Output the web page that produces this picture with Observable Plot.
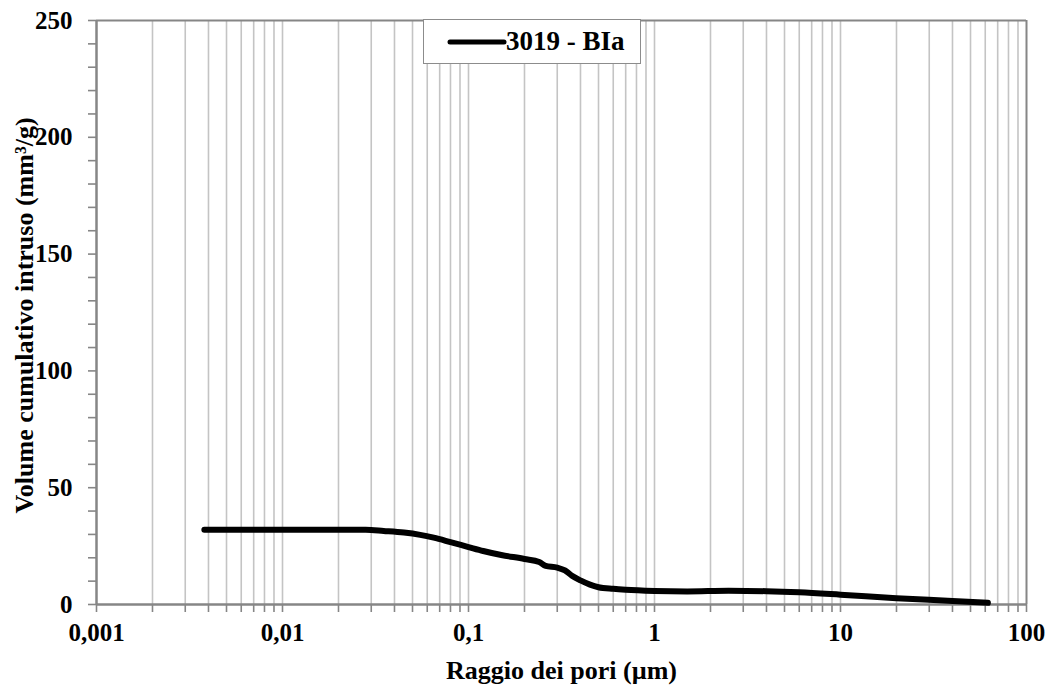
<!DOCTYPE html>
<html>
<head>
<meta charset="utf-8">
<script src="https://cdn.jsdelivr.net/npm/d3@7"></script>
<script src="https://cdn.jsdelivr.net/npm/@observablehq/plot@0.6"></script>
<style>
  html, body { margin: 0; padding: 0; background: #fff; }
  #wrap { position: relative; width: 1051px; height: 691px; }
  #legend {
    position: absolute; left: 423px; top: 19px; width: 216px; height: 43px;
    background: #fff; border: 1.5px solid #8c8c8c;
    font-family: "Liberation Serif", "Times New Roman", serif; font-weight: bold; font-size: 27px;
  }
  #legend svg { position: absolute; left: 0; top: 0; }
  #legend span { position: absolute; left: 82px; top: 5px; line-height: 32px; }
</style>
</head>
<body>
<div id="wrap"></div>
<script>
// Series: pore radius (µm) vs cumulative intruded volume (mm³/g)
const seriesName = "3019 - BIa";
const radius = [0.0038, 0.005, 0.01, 0.02, 0.028, 0.035, 0.045, 0.055, 0.065, 0.08, 0.1, 0.12, 0.15, 0.2, 0.24, 0.26, 0.3, 0.33, 0.36, 0.40, 0.45, 0.5, 0.6, 0.7, 1, 1.5, 2.5, 4, 6, 10, 20, 40, 62];
const volume = [32, 32, 32, 32, 32, 31.5, 30.8, 29.8, 28.6, 26.7, 24.6, 22.9, 21.2, 19.5, 18.2, 16.5, 15.8, 14.6, 12.3, 10.3, 8.5, 7.4, 6.7, 6.3, 5.8, 5.6, 5.9, 5.7, 5.2, 4.2, 2.7, 1.5, 0.7];

// Axis ticks
const xDecades = [0.001, 0.01, 0.1, 1, 10, 100];
const xTickLabels = ["0,001", "0,01", "0,1", "1", "10", "100"];
const xMultipliers = [1, 2, 3, 4, 5, 6, 7, 8, 9];
const yLabelTicks = [0, 50, 100, 150, 200, 250];
const yMinorTicks = [0, 10, 20, 30, 40, 50, 60, 70, 80, 90, 100, 110, 120, 130, 140, 150, 160, 170, 180, 190, 200, 210, 220, 230, 240, 250];

const xTitle = "Raggio dei pori (µm)";
const yTitle = "Volume cumulativo intruso (mm³/g)";

const data = radius.map((r, i) => ({r, v: volume[i]}));
const xAll = [];
xDecades.slice(0, -1).forEach(d => xMultipliers.forEach(m => xAll.push(+(d * m).toPrecision(3))));
xAll.push(100);
const xGrid = xAll.filter(v => v > 0.001 && v < 100);
const labelOf = new Map(xDecades.map((d, i) => [d, xTickLabels[i]]));

const font = "'Liberation Serif', 'Times New Roman', serif";
const axisColor = "#868686";
const gridColor = "#c4c4c4";

const chart = Plot.plot({
  width: 1051,
  height: 691,
  marginLeft: 96,
  marginRight: 25,
  marginTop: 20,
  marginBottom: 87,
  style: {fontFamily: font, fontWeight: "bold", fontSize: "25px", color: "#000", background: "#fff"},
  x: {type: "log", domain: [0.001, 100]},
  y: {domain: [0, 250]},
  marks: [
    Plot.ruleX(xGrid, {stroke: gridColor, strokeWidth: 1.6}),
    Plot.axisX({ticks: xAll, tickSize: 8, tickFormat: () => "", stroke: axisColor, strokeWidth: 1.6, label: null}),
    Plot.axisX({ticks: xDecades, tickSize: 0, tickPadding: 19, tickFormat: d => labelOf.get(d), fontSize: 25, fontWeight: "bold", fill: "#000", label: null}),
    Plot.axisY({ticks: yMinorTicks, tickSize: 8, tickFormat: () => "", stroke: axisColor, strokeWidth: 1.6, label: null}),
    Plot.axisY({ticks: yLabelTicks, tickSize: 0, tickPadding: 24, tickFormat: d => String(d), fontSize: 25, fontWeight: "bold", fill: "#000", label: null}),
    Plot.ruleY([250], {stroke: axisColor, strokeWidth: 2}),
    Plot.ruleX([100], {stroke: axisColor, strokeWidth: 2}),
    Plot.ruleY([0], {stroke: axisColor, strokeWidth: 2.5}),
    Plot.ruleX([0.001], {stroke: axisColor, strokeWidth: 2.5}),
    Plot.line(data, {x: "r", y: "v", stroke: "#000", strokeWidth: 6, curve: "monotone-x", strokeLinecap: "round", strokeLinejoin: "round"}),
    Plot.text([xTitle], {frameAnchor: "bottom", dy: 66, fontSize: 26, fontWeight: "bold", fill: "#000", textAnchor: "middle", lineAnchor: "middle"}),
    Plot.text([yTitle], {frameAnchor: "left", dx: -72, dy: 3, rotate: -90, fontSize: 26, fontWeight: "bold", fill: "#000", textAnchor: "middle", lineAnchor: "middle"})
  ]
});

const wrap = document.getElementById("wrap");
wrap.appendChild(chart);

const legend = document.createElement("div");
legend.id = "legend";
legend.innerHTML = `<svg width="216" height="43"><line x1="26" x2="80" y1="22" y2="22" stroke="#000" stroke-width="5" stroke-linecap="round"/></svg><span></span>`;
legend.querySelector("span").textContent = seriesName;
wrap.appendChild(legend);
</script>
</body>
</html>
